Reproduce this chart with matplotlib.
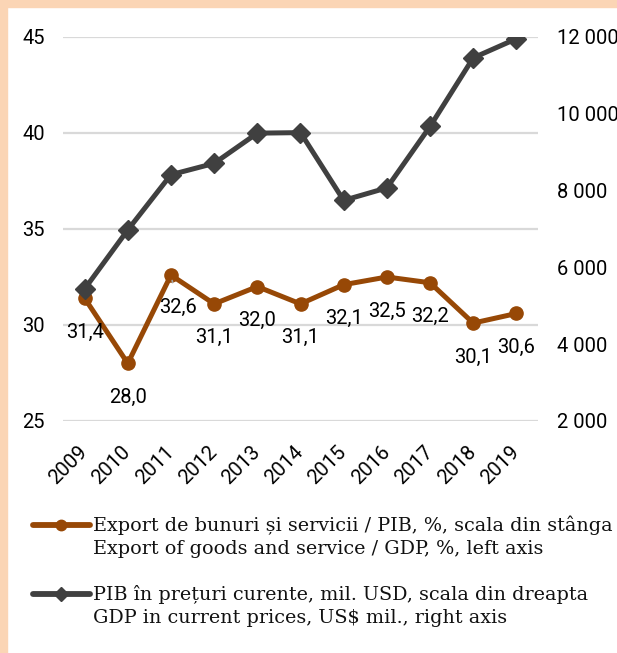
import matplotlib
matplotlib.use("Agg")
import matplotlib.pyplot as plt
import matplotlib.transforms as mtransforms
from matplotlib.lines import Line2D
from matplotlib.patches import Rectangle

# =====================================================
# DATA
# =====================================================

years = ["2009", "2010", "2011", "2012", "2013", "2014",
         "2015", "2016", "2017", "2018", "2019"]

export_share = [31.4, 28.0, 32.6, 31.1, 32.0, 31.1, 32.1, 32.5, 32.2, 30.1, 30.6]

gdp_usd = [5439, 6975, 8414, 8709, 9496, 9510, 7745, 8071, 9670, 11457, 11955]

left_ticks = [25, 30, 35, 40, 45]
right_ticks = [2000, 4000, 6000, 8000, 10000, 12000]

legend_export = ["Export de bunuri și servicii / PIB, %, scala din stânga",
                 "Export of goods and service / GDP, %, left axis"]
legend_gdp = ["PIB în prețuri curente, mil. USD, scala din dreapta",
              "GDP in current prices, US$ mil., right axis"]

# =====================================================
# STYLE
# =====================================================

ORANGE = "#974806"
DARK = "#404040"
GRID = "#D9D9D9"
BORDER = "#FBD5B5"

NUM_FONT = ["Roboto", "DejaVu Sans"]
TXT_FONT = ["DejaVu Serif"]
NUM_SIZE = 14.5

W, H = 617, 653
fig = plt.figure(figsize=(W / 100, H / 100), dpi=100)

# peach frame on the left and top
fig.patches.append(Rectangle((0, 0), 7 / W, 1, transform=fig.transFigure,
                             color=BORDER, zorder=0))
fig.patches.append(Rectangle((0, 1 - 7 / H), 1, 7 / H, transform=fig.transFigure,
                             color=BORDER, zorder=0))

ax = fig.add_axes([63 / W, 1 - 421 / H, (538 - 63) / W, (421 - 37) / H])
ax2 = ax.twinx()

x = list(range(len(years)))

# =====================================================
# LEFT AXIS - EXPORT SHARE
# =====================================================

ax.plot(x, export_share, color=ORANGE, lw=3.6, marker="o", ms=9.5,
        solid_capstyle="round", zorder=3)

ax.set_xlim(-0.5, len(years) - 0.5)
ax.set_ylim(25, 45)
ax.set_yticks(left_ticks)
ax.set_yticklabels([str(v) for v in left_ticks], family=NUM_FONT, fontsize=NUM_SIZE)
ax.yaxis.grid(True, color=GRID, lw=1.6)
ax.set_axisbelow(True)

ax.set_xticks(x)
ax.set_xticklabels(years, family=NUM_FONT, fontsize=NUM_SIZE, rotation=45,
                   ha="right", va="center", rotation_mode="anchor")
shift = mtransforms.ScaledTranslation(-3.5 / 100, 0, fig.dpi_scale_trans)
for lab in ax.get_xticklabels():
    lab.set_transform(lab.get_transform() + shift)

ax.tick_params(axis="x", length=0, pad=20)
ax.tick_params(axis="y", length=0, pad=13)
for s in ax.spines.values():
    s.set_visible(False)
for s in ax2.spines.values():
    s.set_visible(False)

# data labels (centered below the points)
for i, v in enumerate(export_share):
    txt = f"{v:.1f}".replace(".", ",")
    dx, dy = 0, -34
    arrow = None
    if years[i] == "2011":
        dx, dy = 7, -32
        arrow = dict(arrowstyle="-", color="#A6A6A6", lw=1.2,
                     shrinkA=9, shrinkB=4)
    ax.annotate(txt, (i, v), xytext=(dx, dy), textcoords="offset pixels",
                ha="center", va="center", family=NUM_FONT, fontsize=NUM_SIZE,
                color="#000000", arrowprops=arrow, zorder=5)

# =====================================================
# RIGHT AXIS - GDP
# =====================================================

ax2.plot(x, gdp_usd, color=DARK, lw=3.6, marker="D", ms=10, zorder=4)
ax2.set_ylim(2000, 12000)
ax2.set_yticks(right_ticks)
ax2.set_yticklabels([f"{v:,}".replace(",", " ") for v in right_ticks],
                    family=NUM_FONT, fontsize=NUM_SIZE)
ax2.tick_params(axis="y", length=0, pad=14)

# =====================================================
# LEGEND
# =====================================================

leg = fig.add_axes([0, 0, 1, 1], zorder=10)
leg.set_xlim(0, W)
leg.set_ylim(H, 0)
leg.axis("off")
leg.patch.set_alpha(0)

entries = [
    (legend_export, ORANGE, "o", 525),
    (legend_gdp, DARK, "D", 594),
]
for lines, col, mk, y0 in entries:
    leg.add_line(Line2D([33, 90], [y0, y0], color=col, lw=4.2,
                        solid_capstyle="round"))
    leg.add_line(Line2D([61], [y0], color=col, marker=mk, ms=7.5, lw=0))
    for k, t in enumerate(lines):
        leg.text(93, y0 + 24 * k, t, family=TXT_FONT, fontsize=13.8,
                 ha="left", va="center", color="#111111")

fig.savefig("out.png", dpi=100)
